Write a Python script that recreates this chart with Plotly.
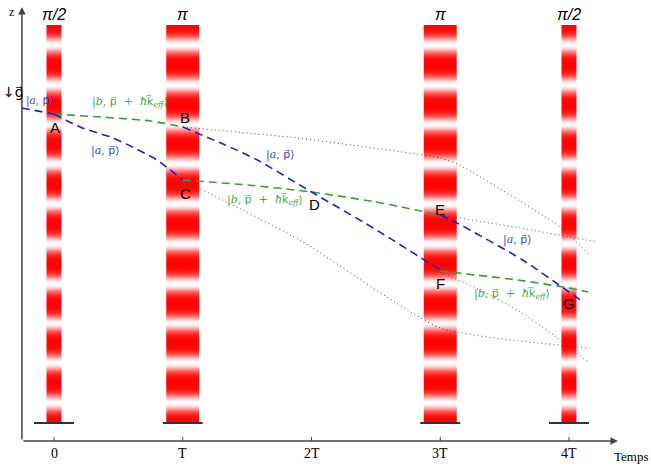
import math
import plotly.graph_objects as go

# pulse times (units of T) and pulse names
pulse_t = [0, 1, 3, 4]
pulse_name = ["π/2", "π", "π", "π/2"]
tick_t = [0, 1, 2, 3, 4]
tick_lbl = ["0", "T", "2T", "3T", "4T"]

# trajectories (t in T, z = height above time axis)
blue0_t = [-0.25, 0]
blue0_z = [333, 327]
green_ab_t = [0, 0.47, 0.75, 1.0]
green_ab_z = [327, 323, 320, 314]
blue_ac_t = [0, 0.22, 0.44, 0.61, 0.8, 1.0]
blue_ac_z = [327, 313, 304, 294, 281, 261]
green_ce_t = [1, 1.5, 2, 2.5, 3]
green_ce_z = [261, 256, 249, 239, 226]
blue_bf_t = [1, 1.33, 1.58, 2, 2.48, 3]
blue_bf_z = [314, 296, 281, 249, 213, 171]
green_fg_t = [3, 3.6, 4, 4.15]
green_fg_z = [170, 161, 153, 149]
blue_eg_t = [3, 3.13, 3.64, 4.0, 4.11]
blue_eg_z = [226, 218, 181, 149, 139]

# lost (undeflected) paths, dotted
dot_b_t = [1, 1.89, 3.0, 3.15, 3.93, 4.16]
dot_b_z = [314, 303, 283, 276, 214, 186]
dot_c_t = [1, 1.91, 3.0, 4.16]
dot_c_z = [261, 201, 113, 93]
dot_e_t = [3, 3.62, 4.22]
dot_e_z = [226, 213, 199]
dot_f_t = [3.0, 3.31, 3.6, 3.88, 4.15]
dot_f_z = [169, 151, 131, 106, 79]

# points of interaction
pt_lbl = ["A", "B", "C", "D", "E", "F", "G"]
pt_t = [0.01, 1.02, 1.02, 2.02, 3.0, 3.0, 4.0]
pt_z = [314, 324, 248, 237, 232, 158, 138]

# state labels (first one is left-anchored next to the z axis)
ket_a = "|<i>a</i>, p⃗⟩"
ket_b = "|<i>b</i>, p⃗  +  <i>ħ</i>k⃗<sub><i>eff</i></sub>⟩"
ket_txt = [ket_a, ket_b, ket_a, ket_a, ket_b, ket_a, ket_b]
ket_t = [-0.235, 0.59, 0.40, 1.76, 1.64, 3.60, 3.56]
ket_z = [340, 340, 290, 286, 242, 201, 148]

BLUE = "#2020cc"
GREEN = "#3c9c3c"
PX = 128.75  # pixels per T

fig = go.Figure()

# striped laser pulses
z_lo, z_hi = 18, 416
nrow = 400
edges = [z_lo + (z_hi - z_lo) * i / nrow for i in range(nrow + 1)]
period = (z_hi - z_lo) / 10
stripe = []
for i in range(nrow):
    zc = (edges[i] + edges[i + 1]) / 2
    ph = ((z_hi - zc) / period) % 1.0
    stripe.append([1 - math.exp(-((ph - 0.5) / 0.21) ** 2)])

for t, name in zip(pulse_t, pulse_name):
    half = (7.5 if name == "π/2" else 16.5) / PX
    fig.add_trace(go.Heatmap(
        x=[t - half, t + half], y=edges, z=stripe,
        colorscale=[[0, "#ffffff"], [1, "#ff0000"]], zmin=0, zmax=1,
        showscale=False, hoverinfo="skip"))
    fig.add_shape(type="line", x0=t - 20 / PX, x1=t + 20 / PX, y0=z_lo, y1=z_lo,
                  line=dict(color="#333333", width=2))
    fig.add_annotation(x=t, y=427, text="<i>" + name + "</i>", showarrow=False,
                       font=dict(family="Liberation Sans", size=16, color="black"))

# dotted lines
for tt, zz in [(dot_b_t, dot_b_z), (dot_c_t, dot_c_z), (dot_e_t, dot_e_z), (dot_f_t, dot_f_z)]:
    fig.add_trace(go.Scatter(x=tt, y=zz, mode="lines", hoverinfo="skip",
                             line=dict(color="#444444", width=1, dash="1px,3px", shape="spline", smoothing=0.5)))

# dashed trajectories
for tt, zz, c in [(blue0_t, blue0_z, BLUE), (green_ab_t, green_ab_z, GREEN),
                  (blue_ac_t, blue_ac_z, BLUE), (green_ce_t, green_ce_z, GREEN),
                  (blue_bf_t, blue_bf_z, BLUE), (green_fg_t, green_fg_z, GREEN),
                  (blue_eg_t, blue_eg_z, BLUE)]:
    fig.add_trace(go.Scatter(x=tt, y=zz, mode="lines", hoverinfo="skip",
                             line=dict(color=c, width=1.6, dash="8px,5px", shape="spline", smoothing=0.6)))

for l, t, z in zip(pt_lbl, pt_t, pt_z):
    fig.add_annotation(x=t, y=z, text=l, showarrow=False,
                       font=dict(family="Liberation Sans", size=15, color="black"))

for i, (s, t, z) in enumerate(zip(ket_txt, ket_t, ket_z)):
    col = "#4040cc" if "a</i>" in s else "#46a846"
    fig.add_annotation(x=t, y=z, text=s, showarrow=False,
                       xanchor="left" if i == 0 else "center",
                       font=dict(family="DejaVu Serif, DejaVu Sans", size=10.5 if i == 0 else 11, color=col))

# axes drawn by hand
x_ax = -0.249
fig.add_annotation(x=x_ax, y=434, ax=x_ax, ay=0, axref="x", ayref="y", text="",
                   showarrow=True, arrowhead=2, arrowsize=1, arrowwidth=1.5, arrowcolor="#444444")
fig.add_annotation(x=4.38, y=0, ax=x_ax, ay=0, axref="x", ayref="y", text="",
                   showarrow=True, arrowhead=2, arrowsize=1, arrowwidth=1.5, arrowcolor="#444444")
for t, l in zip(tick_t, tick_lbl):
    fig.add_shape(type="line", x0=t, x1=t, y0=0, y1=4, line=dict(color="#444444", width=1))
    fig.add_annotation(x=t, y=-12, text=l, showarrow=False,
                       font=dict(family="Liberation Serif", size=14, color="black"))
fig.add_annotation(x=596 / PX, y=-15, text="Temps", showarrow=False, xanchor="right",
                   font=dict(family="Liberation Serif", size=13, color="black"))
fig.add_annotation(x=-0.33, y=429, text="z", showarrow=False,
                   font=dict(family="Liberation Serif", size=12, color="black"))
fig.add_annotation(x=-53.5 / PX, y=349, text="↓g⃗", showarrow=False, xanchor="left",
                   font=dict(family="DejaVu Sans", size=14, color="black"))

fig.update_layout(
    width=651, height=470,
    margin=dict(l=0, r=0, t=0, b=0),
    paper_bgcolor="white", plot_bgcolor="white",
    showlegend=False,
    xaxis=dict(range=[-54 / PX, 597 / PX], visible=False, fixedrange=True),
    yaxis=dict(range=[-29, 441], visible=False, fixedrange=True),
)

# drop the default page margin so the figure sits at the window corner
fig.write_html("out.html", config={"displayModeBar": False},
               post_script="document.body.style.margin='0px';")
